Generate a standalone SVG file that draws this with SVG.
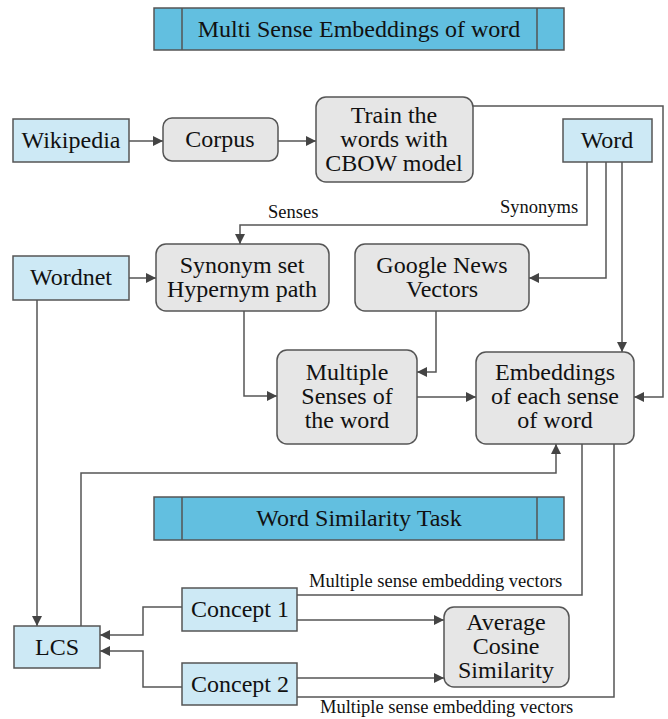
<svg xmlns="http://www.w3.org/2000/svg" width="668" height="719" viewBox="0 0 668 719">
<defs>
<marker id="ah" viewBox="0 0 10 10" refX="10" refY="5" markerWidth="10" markerHeight="10" markerUnits="userSpaceOnUse" orient="auto">
<path d="M0,0 L10,5 L0,10 z" fill="#444"/>
</marker>
<style>
text{font-family:'Liberation Serif','Times New Roman',serif;fill:#111}
.t{font-size:24px;text-anchor:middle}
.l{font-size:18.5px}
.blue{fill:#cde9f5;stroke:#555;stroke-width:1.5}
.gray{fill:#e6e6e6;stroke:#555;stroke-width:1.5}
.title{fill:#62bfe0;stroke:#555;stroke-width:1.5}
.c{fill:none;stroke:#555;stroke-width:1.5}
.a{marker-end:url(#ah)}
</style>
</defs>
<g id="title1">
<rect class="title" x="154" y="8" width="410" height="42"/>
<line class="c" x1="182" y1="8" x2="182" y2="50"/>
<line class="c" x1="537" y1="8" x2="537" y2="50"/>
<text class="t" x="359" y="37">Multi Sense Embeddings of word</text>
</g>
<g id="title2">
<rect class="title" x="154" y="497" width="410" height="43"/>
<line class="c" x1="182" y1="497" x2="182" y2="540"/>
<line class="c" x1="537" y1="497" x2="537" y2="540"/>
<text class="t" x="359" y="526">Word Similarity Task</text>
</g>
<g id="connectors">
<path class="c a" d="M129,141 L163,141"/>
<path class="c a" d="M278,141 L316,141"/>
<path class="c a" d="M473,106 L663,106 L663,397 L634,397"/>
<path class="c a" d="M587,162 L587,225 L240,225 L240,244"/>
<path class="c a" d="M606,162 L606,278 L529,278"/>
<path class="c a" d="M622,162 L622,352"/>
<path class="c a" d="M129,278 L156,278"/>
<path class="c a" d="M244,311 L244,396 L277,396"/>
<path class="c a" d="M436,311 L436,372 L417,372"/>
<path class="c a" d="M417,397 L476,397"/>
<path class="c a" d="M37,300 L37,626"/>
<path class="c a" d="M81,626 L81,473 L556,473 L556,444"/>
<path class="c" d="M297,595 L582,595 L582,444"/>
<path class="c" d="M297,697 L614,697 L614,444"/>
<path class="c a" d="M297,620 L444,620"/>
<path class="c a" d="M297,678 L444,678"/>
<path class="c a" d="M182,607 L143,607 L143,635 L100,635"/>
<path class="c a" d="M182,687 L143,687 L143,651 L100,651"/>
<text class="l" x="268" y="218">Senses</text>
<text class="l" x="500" y="213">Synonyms</text>
<text class="l" x="309" y="587">Multiple sense embedding vectors</text>
<text class="l" x="320" y="713">Multiple sense embedding vectors</text>
</g>
<g id="wikipedia">
<rect class="blue" x="13" y="119" width="116" height="43"/>
<text class="t" x="71" y="148">Wikipedia</text>
</g>
<g id="corpus">
<rect class="gray" x="163" y="118" width="115" height="43" rx="9"/>
<text class="t" x="220" y="147">Corpus</text>
</g>
<g id="train">
<rect class="gray" x="316" y="97" width="157" height="85" rx="10"/>
<text class="t" x="394" y="123">Train the</text>
<text class="t" x="394" y="147">words with</text>
<text class="t" x="394" y="171">CBOW model</text>
</g>
<g id="word">
<rect class="blue" x="563" y="119" width="89" height="43"/>
<text class="t" x="607" y="148">Word</text>
</g>
<g id="wordnet">
<rect class="blue" x="13" y="256" width="116" height="44"/>
<text class="t" x="71" y="285">Wordnet</text>
</g>
<g id="synonym">
<rect class="gray" x="156" y="244" width="173" height="67" rx="10"/>
<text class="t" x="242" y="273">Synonym set</text>
<text class="t" x="242" y="297">Hypernym path</text>
</g>
<g id="google">
<rect class="gray" x="355" y="244" width="174" height="67" rx="10"/>
<text class="t" x="442" y="273">Google News</text>
<text class="t" x="442" y="297">Vectors</text>
</g>
<g id="multiple">
<rect class="gray" x="277" y="350" width="140" height="94" rx="10"/>
<text class="t" x="347" y="380">Multiple</text>
<text class="t" x="347" y="404">Senses of</text>
<text class="t" x="347" y="428">the word</text>
</g>
<g id="embeddings">
<rect class="gray" x="476" y="352" width="158" height="92" rx="10"/>
<text class="t" x="555" y="380">Embeddings</text>
<text class="t" x="555" y="404">of each sense</text>
<text class="t" x="555" y="428">of word</text>
</g>
<g id="concept1">
<rect class="blue" x="182" y="588" width="115" height="43"/>
<text class="t" x="240" y="617">Concept 1</text>
</g>
<g id="concept2">
<rect class="blue" x="182" y="663" width="115" height="42"/>
<text class="t" x="240" y="692">Concept 2</text>
</g>
<g id="lcs">
<rect class="blue" x="14" y="626" width="86" height="42"/>
<text class="t" x="57" y="655">LCS</text>
</g>
<g id="average">
<rect class="gray" x="444" y="607" width="125" height="80" rx="10"/>
<text class="t" x="506" y="630">Average</text>
<text class="t" x="506" y="654">Cosine</text>
<text class="t" x="506" y="678">Similarity</text>
</g>
</svg>
